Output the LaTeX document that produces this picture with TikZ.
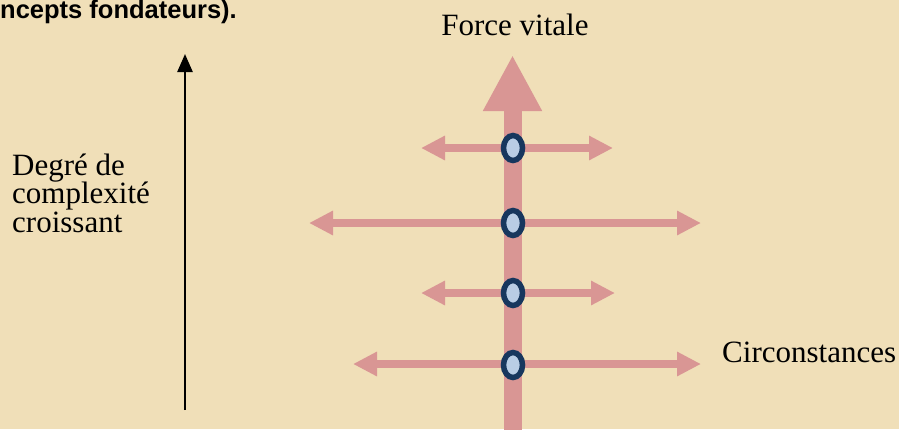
\documentclass[tikz,border=0pt]{standalone}
\usepackage{fontspec}
\setmainfont{Liberation Serif}
\newfontfamily\arialfont{Liberation Sans}
\usetikzlibrary{arrows.meta,positioning,shapes.geometric}
\definecolor{parchment}{RGB}{240,223,184}
\definecolor{arrowPink}{RGB}{217,150,148}
\definecolor{ringNavy}{RGB}{23,55,94}
\definecolor{ringFill}{RGB}{185,205,229}

\begin{document}
\begin{tikzpicture}[x=1pt,y=-1pt,
    ring/.style={ellipse, draw=ringNavy, fill=ringFill, line width=5.5pt,
        minimum width=19pt, minimum height=25pt, inner sep=0pt},
    branch/.style={arrowPink, line width=8pt,
        {Triangle[length=24pt,width=23pt]}-{Triangle[length=24pt,width=23pt]}},
    lbl/.style={font=\fontsize{31}{28.5}\selectfont, inner sep=0pt, anchor=base west}]
    \fill[parchment] (0,0) rectangle (899,429);
    \useasboundingbox (0,0) rectangle (899,429);

    % titre coupe et axe de complexite
    \node[font=\arialfont\bfseries\fontsize{25.5}{25.5}\selectfont, anchor=base west, inner sep=0pt]
        (title) at (0,18.5) {ncepts fondateurs).};
    \coordinate (axisfoot) at (185,410);
    \coordinate (axistop) at (185,54);
    \draw[black, line width=2.5pt, -{Triangle[length=18pt,width=15pt]}] (axisfoot) -- (axistop);
    \node[lbl, align=left] (degre) at (12,232) {Degr\'e de\\complexit\'e\\croissant};

    % tronc
    \coordinate (stem) at (512.5,440);
    \coordinate (stemtop) at (512.5,55);
    \draw[arrowPink, line width=18pt, -{Triangle[length=56pt,width=55pt]}] (stem) -- (stemtop);
    \node[lbl, anchor=base] (force) at (515,35) {Force vitale};

    % branches
    \coordinate (l1) at (421,148); \coordinate (r1) at (613,148);
    \coordinate (l2) at (309,223); \coordinate (r2) at (701,223);
    \coordinate (l3) at (421,293); \coordinate (r3) at (615,293);
    \coordinate (l4) at (353,364); \coordinate (r4) at (701,364);
    \draw[branch] (l1) -- (r1);
    \draw[branch] (l2) -- (r2);
    \draw[branch] (l3) -- (r3);
    \draw[branch] (l4) -- (r4);
    \node[ring] (e1) at (513,148) {};
    \node[ring] (e2) at (513,223) {};
    \node[ring] (e3) at (513,293) {};
    \node[ring] (e4) at (513,365) {};
    \node[lbl] (circ) at (722,362) {Circonstances};
\end{tikzpicture}
\end{document}
